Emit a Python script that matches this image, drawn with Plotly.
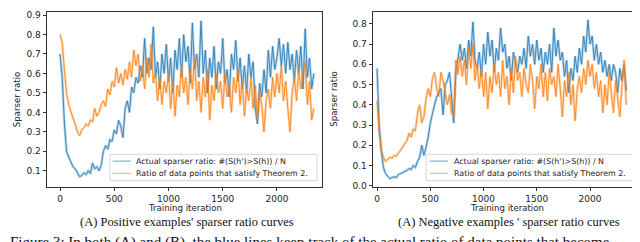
import plotly.graph_objects as go

# ---------------- data ----------------
iterations = list(range(0, 2341, 20))

pos_actual = [
    0.70, 0.58, 0.35, 0.20, 0.17, 0.14, 0.12, 0.11, 0.09, 0.07,
    0.075, 0.09, 0.08, 0.10, 0.085, 0.14, 0.11, 0.12, 0.10, 0.13,
    0.20, 0.23, 0.21, 0.26, 0.25, 0.31, 0.29, 0.36, 0.33, 0.27,
    0.42, 0.46, 0.40, 0.53, 0.50, 0.58, 0.55, 0.64, 0.58, 0.78,
    0.60, 0.68, 0.62, 0.84, 0.58, 0.66, 0.52, 0.70, 0.60, 0.75,
    0.56, 0.68, 0.50, 0.72, 0.62, 0.78, 0.58, 0.80, 0.66, 0.74,
    0.55, 0.86, 0.62, 0.70, 0.58, 0.87, 0.60, 0.72, 0.50, 0.68,
    0.58, 0.74, 0.52, 0.66, 0.60, 0.78, 0.55, 0.62, 0.48, 0.70,
    0.62, 0.77, 0.56, 0.68, 0.52, 0.64, 0.50, 0.70, 0.58, 0.66,
    0.42, 0.34, 0.55, 0.48, 0.62, 0.50, 0.72, 0.58, 0.74, 0.62,
    0.68, 0.78, 0.64, 0.75, 0.60, 0.76, 0.62, 0.70, 0.56, 0.72,
    0.60, 0.74, 0.52, 0.83, 0.58, 0.68, 0.52, 0.60,
]

pos_theorem = [
    0.80, 0.76, 0.62, 0.50, 0.44, 0.40, 0.37, 0.34, 0.30, 0.28,
    0.31, 0.32, 0.34, 0.33, 0.36, 0.35, 0.42, 0.38, 0.40, 0.44,
    0.46, 0.43, 0.52, 0.49, 0.56, 0.53, 0.63, 0.55, 0.60, 0.54,
    0.62, 0.57, 0.66, 0.58, 0.72, 0.64, 0.70, 0.56, 0.64, 0.52,
    0.68, 0.58, 0.75, 0.55, 0.60, 0.46, 0.58, 0.44, 0.56, 0.50,
    0.60, 0.42, 0.56, 0.38, 0.54, 0.48, 0.64, 0.50, 0.58, 0.44,
    0.62, 0.52, 0.68, 0.46, 0.56, 0.40, 0.58, 0.48, 0.62, 0.36,
    0.54, 0.46, 0.60, 0.50, 0.56, 0.42, 0.60, 0.48, 0.54, 0.40,
    0.58, 0.50, 0.62, 0.44, 0.56, 0.38, 0.52, 0.46, 0.58, 0.42,
    0.54, 0.36, 0.50, 0.44, 0.30, 0.46, 0.52, 0.42, 0.58, 0.48,
    0.60, 0.50, 0.64, 0.46, 0.56, 0.42, 0.30, 0.50, 0.58, 0.46,
    0.62, 0.52, 0.58, 0.66, 0.44, 0.56, 0.36, 0.42,
]

neg_actual = [
    0.58, 0.30, 0.17, 0.09, 0.06, 0.045, 0.035, 0.04, 0.045, 0.04,
    0.055, 0.06, 0.065, 0.07, 0.075, 0.085, 0.08, 0.10, 0.09, 0.12,
    0.14, 0.20, 0.15, 0.19, 0.24, 0.31, 0.36, 0.40, 0.44, 0.46,
    0.48, 0.35, 0.50, 0.52, 0.56, 0.44, 0.31, 0.56, 0.64, 0.70,
    0.62, 0.68, 0.58, 0.72, 0.64, 0.81, 0.62, 0.58, 0.66, 0.54,
    0.70, 0.60, 0.76, 0.64, 0.72, 0.56, 0.68, 0.62, 0.78, 0.66,
    0.70, 0.58, 0.64, 0.52, 0.66, 0.60, 0.56, 0.64, 0.60, 0.68,
    0.58, 0.74, 0.64, 0.70, 0.60, 0.72, 0.62, 0.68, 0.56, 0.66,
    0.60, 0.70, 0.56, 0.78, 0.64, 0.72, 0.62, 0.66, 0.54, 0.62,
    0.46, 0.58, 0.52, 0.64, 0.56, 0.68, 0.60, 0.74, 0.66, 0.82,
    0.70, 0.74, 0.62, 0.70, 0.60, 0.66, 0.56, 0.62, 0.54, 0.60,
    0.52, 0.60, 0.56, 0.46, 0.58, 0.52, 0.60, 0.47,
]

neg_theorem = [
    0.42, 0.26, 0.18, 0.14, 0.12, 0.13, 0.14, 0.135, 0.15, 0.145,
    0.16, 0.17, 0.19, 0.21, 0.22, 0.26, 0.24, 0.28, 0.27, 0.36,
    0.40, 0.31, 0.34, 0.43, 0.48, 0.44, 0.53, 0.56, 0.48, 0.44,
    0.56, 0.52, 0.46, 0.40, 0.45, 0.36, 0.34, 0.62, 0.55, 0.64,
    0.54, 0.62, 0.50, 0.68, 0.58, 0.70, 0.52, 0.60, 0.48, 0.58,
    0.44, 0.56, 0.38, 0.54, 0.46, 0.60, 0.50, 0.56, 0.44, 0.62,
    0.48, 0.54, 0.40, 0.58, 0.46, 0.64, 0.52, 0.56, 0.44, 0.58,
    0.50, 0.46, 0.60, 0.52, 0.38, 0.54, 0.48, 0.60, 0.44, 0.56,
    0.42, 0.58, 0.50, 0.54, 0.44, 0.60, 0.48, 0.34, 0.52, 0.44,
    0.56, 0.40, 0.50, 0.32, 0.48, 0.54, 0.46, 0.58, 0.50, 0.62,
    0.54, 0.60, 0.48, 0.56, 0.44, 0.52, 0.36, 0.50, 0.40, 0.56,
    0.46, 0.36, 0.52, 0.44, 0.34, 0.50, 0.62, 0.40,
]

label_actual = "Actual sparser ratio: #(S(h')>S(h)) / N"
label_theorem = "Ratio of data points that satisfy Theorem 2."
x_title = "Training iteration"
y_title = "Sparser ratio"
x_ticks = [0, 500, 1000, 1500, 2000]
pos_y_ticks = [0.1, 0.2, 0.3, 0.4, 0.5, 0.6, 0.7, 0.8, 0.9]
neg_y_ticks = [0.0, 0.1, 0.2, 0.3, 0.4, 0.5, 0.6, 0.7, 0.8]

BLUE = "#1f77b4"
ORANGE = "#ff7f0e"
W, H = 640, 242


def px_x(p):
    return p / W


def px_y(p):
    return (H - p) / H


fig = go.Figure()


def add_series(xs, ys, color, xa, ya):
    n = min(len(xs), len(ys))
    # light halo (mimics the dense high-frequency band of the original)
    fig.add_trace(go.Scatter(x=xs[:n], y=ys[:n], mode="lines", showlegend=False,
                             line=dict(color=color, width=2.6), opacity=0.3,
                             xaxis=xa, yaxis=ya, hoverinfo="skip"))
    fig.add_trace(go.Scatter(x=xs[:n], y=ys[:n], mode="lines", showlegend=False,
                             line=dict(color=color, width=0.9), opacity=0.9,
                             xaxis=xa, yaxis=ya))


add_series(iterations, pos_actual, BLUE, "x", "y")
add_series(iterations, pos_theorem, ORANGE, "x", "y")
add_series(iterations, neg_actual, BLUE, "x2", "y2")
add_series(iterations, neg_theorem, ORANGE, "x2", "y2")

AX = "#333333"
TXT = "#222222"
tickfont = dict(family="DejaVu Sans", size=9, color=TXT)
common = dict(showline=True, linecolor=AX, linewidth=0.8, mirror=True,
              ticks="outside", ticklen=3.5, tickwidth=0.8, tickcolor=AX,
              showgrid=False, zeroline=False, tickfont=tickfont)

fig.update_layout(
    width=W, height=H,
    margin=dict(l=0, r=0, t=0, b=0),
    paper_bgcolor="white", plot_bgcolor="white",
    showlegend=False,
    xaxis=dict(domain=[px_x(39), px_x(314)], range=[-120, 2415], anchor="y",
               tickvals=x_ticks, **common),
    yaxis=dict(domain=[px_y(181), px_y(2)], range=[0.019, 0.916], anchor="x",
               tickvals=pos_y_ticks, tickformat=".1f", **common),
    xaxis2=dict(domain=[px_x(365), px_x(632)], range=[-38, 2469], anchor="y2",
                tickvals=x_ticks, **common),
    yaxis2=dict(domain=[px_y(181), px_y(2)], range=[-0.004, 0.859], anchor="x2",
                tickvals=neg_y_ticks, tickformat=".1f", **common),
)

labfont = dict(family="DejaVu Sans", size=8.6, color=TXT)
# axis titles
for cx in (176.5, 498.5):
    fig.add_annotation(text=x_title, xref="paper", yref="paper", x=px_x(cx), y=px_y(203),
                       xanchor="center", yanchor="middle", showarrow=False, font=labfont,
                       borderpad=0)
for cx in (9, 326.5):
    fig.add_annotation(text=y_title, xref="paper", yref="paper", x=px_x(cx), y=px_y(91.5),
                       xanchor="center", yanchor="middle", showarrow=False, textangle=-90,
                       font=labfont, borderpad=0)

# legends (matplotlib-style boxes)
legfont = dict(family="DejaVu Sans", size=7.9, color=TXT)
for (bx0, bx1, lx0, lx1, tx) in ((102, 309, 104.5, 123, 127), (418, 626, 421.5, 440, 444.5)):
    fig.add_shape(type="rect", xref="paper", yref="paper",
                  x0=px_x(bx0), x1=px_x(bx1), y0=px_y(175), y1=px_y(148),
                  line=dict(color="#cccccc", width=0.8), fillcolor="rgba(255,255,255,0.85)",
                  layer="above")
    for (ly, col, lab) in ((155, BLUE, label_actual), (167.5, ORANGE, label_theorem)):
        fig.add_shape(type="line", xref="paper", yref="paper",
                      x0=px_x(lx0), x1=px_x(lx1), y0=px_y(ly), y1=px_y(ly),
                      line=dict(color=col, width=1.2), opacity=0.55, layer="above")
        fig.add_annotation(text=lab, xref="paper", yref="paper", x=px_x(tx), y=px_y(ly),
                           xanchor="left", yanchor="middle", showarrow=False, font=legfont,
                           borderpad=0)

serif = "Liberation Serif"
fig.add_annotation(text="(A) Positive examples' sparser ratio curves", xref="paper", yref="paper",
                   x=px_x(178.5), y=px_y(217), xanchor="center", yanchor="middle", showarrow=False,
                   font=dict(family=serif, size=12.5, color="#111"))
fig.add_annotation(text="(A) Negative examples ' sparser ratio curves", xref="paper", yref="paper",
                   x=px_x(501), y=px_y(217), xanchor="center", yanchor="middle", showarrow=False,
                   font=dict(family=serif, size=12.5, color="#111"))
fig.add_annotation(text="Figure 3: In both (A) and (B), the blue lines keep track of the actual ratio of data points that become",
                   xref="paper", yref="paper", x=0, y=px_y(227.5), xanchor="left", yanchor="top",
                   showarrow=False, font=dict(family=serif, size=15, color="#111"))

fig.write_html("out.html")
